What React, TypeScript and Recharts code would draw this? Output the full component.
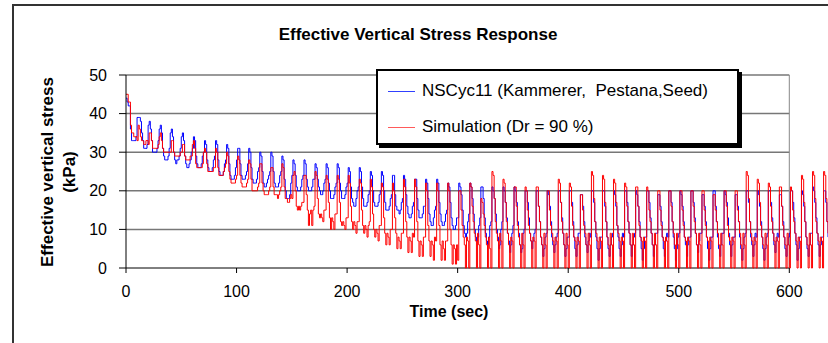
import React from "react";
import { Legend, Line, LineChart, ReferenceLine, XAxis, YAxis } from "recharts";

const FONT = "'Liberation Sans', Arial, sans-serif";

const xTicks = [0, 100, 200, 300, 400, 500, 600];
const yTicks = [0, 10, 20, 30, 40, 50];
const gridLevels = [10, 20, 30, 40, 50];

// one row per 10 s loading cycle, one reading per second (kPa)
const nscycCycles: number[][] = [
  [44, 43, 42, 42, 36, 33, 33, 33, 33, 34],
  [39, 39, 39, 38, 35, 33, 31, 31, 31, 32],
  [37, 38, 36, 33, 30, 30, 30, 30, 31, 33],
  [36, 37, 35, 31, 29, 28, 28, 28, 29, 31],
  [35, 36, 34, 30, 28, 27, 28, 28, 29, 31],
  [34, 35, 33, 29, 27, 26, 26, 27, 28, 30],
  [31, 34, 33, 29, 27, 26, 26, 26, 27, 29],
  [30, 33, 32, 28, 26, 25, 25, 25, 26, 28],
  [29, 33, 32, 28, 25, 24, 24, 24, 25, 27],
  [28, 32, 31, 27, 24, 23, 23, 23, 24, 26],
  [28, 31, 31, 27, 24, 23, 23, 23, 24, 25],
  [27, 31, 30, 26, 23, 22, 22, 22, 23, 25],
  [26, 30, 29, 25, 22, 21, 21, 22, 23, 24],
  [25, 30, 29, 25, 22, 21, 21, 21, 22, 24],
  [25, 29, 28, 23, 20, 18, 18, 18, 19, 22],
  [24, 28, 27, 24, 21, 20, 20, 20, 21, 23],
  [24, 28, 27, 23, 21, 20, 20, 20, 21, 23],
  [23, 27, 26, 23, 21, 20, 19, 19, 20, 22],
  [23, 27, 26, 22, 20, 18, 18, 18, 19, 21],
  [22, 27, 26, 22, 20, 18, 18, 18, 19, 21],
  [22, 26, 25, 21, 18, 17, 16, 16, 18, 20],
  [21, 26, 25, 21, 18, 16, 16, 16, 17, 19],
  [20, 25, 24, 20, 17, 16, 16, 16, 17, 19],
  [20, 25, 24, 20, 17, 15, 15, 15, 16, 18],
  [19, 24, 24, 19, 16, 15, 15, 14, 15, 17],
  [18, 24, 23, 19, 16, 14, 13, 13, 14, 16],
  [17, 23, 23, 18, 15, 13, 13, 13, 14, 16],
  [16, 23, 22, 18, 14, 12, 11, 11, 13, 15],
  [16, 23, 22, 17, 14, 12, 11, 11, 12, 14],
  [15, 22, 21, 17, 13, 11, 10, 10, 11, 13],
  [13, 22, 21, 19, 15, 11, 9, 8, 9, 12],
  [14, 22, 21, 18, 14, 10, 8, 7, 8, 11],
  [13, 21, 21, 18, 13, 9, 7, 6, 8, 11],
  [12, 21, 20, 18, 14, 10, 8, 5, 6, 10],
  [12, 21, 20, 17, 13, 9, 7, 4, 6, 9],
  [11, 21, 20, 17, 12, 9, 6, 4, 5, 9],
  [10, 20, 20, 17, 13, 9, 7, 5, 7, 9],
  [10, 20, 20, 16, 12, 8, 6, 3, 5, 8],
  [9, 20, 19, 16, 12, 8, 6, 4, 6, 8],
  [9, 20, 20, 17, 13, 9, 6, 3, 5, 8],
  [8, 20, 20, 17, 12, 8, 5, 3, 6, 9],
  [9, 19, 19, 16, 12, 8, 6, 4, 7, 9],
  [8, 20, 20, 17, 12, 8, 5, 2, 5, 8],
  [8, 20, 20, 16, 12, 8, 5, 3, 6, 8],
  [9, 20, 19, 16, 11, 8, 5, 3, 6, 9],
  [8, 20, 20, 17, 12, 9, 6, 3, 6, 8],
  [9, 20, 19, 16, 12, 8, 5, 2, 5, 8],
  [8, 20, 20, 17, 13, 9, 6, 3, 6, 9],
  [9, 19, 19, 16, 12, 8, 5, 3, 7, 9],
  [8, 20, 20, 17, 12, 8, 5, 2, 5, 8],
  [9, 20, 19, 16, 12, 8, 6, 3, 6, 8],
  [8, 20, 20, 17, 13, 9, 6, 4, 7, 9],
  [9, 19, 19, 16, 12, 8, 5, 2, 5, 8],
  [8, 20, 20, 16, 12, 8, 5, 3, 6, 9],
  [9, 20, 19, 17, 13, 9, 6, 3, 6, 8],
  [8, 19, 19, 16, 12, 8, 5, 2, 5, 8],
  [9, 20, 20, 17, 12, 8, 6, 3, 6, 9],
  [8, 20, 19, 16, 12, 8, 5, 2, 5, 8],
  [9, 20, 20, 17, 13, 9, 6, 4, 7, 9],
  [8, 19, 19, 16, 12, 8, 5, 3, 6, 8],
  [9, 20, 20, 17, 13, 9, 6, 2, 5, 8],
  [8, 20, 19, 16, 12, 8, 5, 3, 6, 9],
  [9, 21, 20, 17, 13, 9, 6, 3, 6, 8],
  [8, 20, 20, 17, 12, 8, 5, 2, 5, 8],
];

const simCycles: number[][] = [
  [45, 45, 43, 43, 37, 35, 35, 34, 34, 34],
  [33, 37, 36, 34, 33, 33, 32, 32, 33, 33],
  [32, 35, 35, 33, 31, 31, 31, 31, 31, 32],
  [34, 35, 33, 31, 30, 30, 30, 30, 30, 30],
  [30, 33, 33, 30, 29, 29, 29, 29, 29, 30],
  [30, 32, 32, 29, 28, 28, 28, 28, 29, 29],
  [32, 33, 31, 27, 26, 26, 26, 26, 26, 27],
  [30, 31, 30, 27, 25, 25, 25, 25, 25, 26],
  [26, 31, 30, 26, 24, 24, 24, 24, 25, 26],
  [27, 30, 29, 25, 23, 22, 22, 22, 22, 23],
  [24, 29, 28, 24, 22, 21, 21, 21, 21, 22],
  [23, 28, 27, 23, 20, 20, 20, 20, 20, 21],
  [22, 27, 27, 22, 20, 19, 19, 19, 19, 20],
  [21, 26, 26, 21, 19, 19, 19, 18, 19, 20],
  [21, 27, 26, 21, 18, 18, 17, 17, 18, 19],
  [18, 24, 25, 20, 16, 15, 16, 15, 16, 17],
  [17, 24, 24, 19, 15, 11, 14, 15, 11, 15],
  [16, 25, 24, 18, 14, 13, 14, 13, 12, 15],
  [15, 24, 23, 17, 13, 10, 13, 12, 10, 14],
  [14, 24, 23, 17, 12, 11, 12, 11, 10, 13],
  [13, 24, 22, 16, 12, 10, 12, 11, 9, 12],
  [12, 23, 22, 15, 11, 9, 11, 10, 8, 11],
  [12, 23, 21, 14, 10, 8, 10, 9, 7, 11],
  [11, 22, 21, 13, 9, 6, 9, 8, 6, 10],
  [10, 22, 20, 13, 9, 5, 8, 7, 5, 9],
  [9, 23, 21, 12, 8, 4, 8, 7, 4, 9],
  [8, 23, 21, 12, 7, 3, 7, 6, 3, 8],
  [8, 22, 20, 11, 7, 3, 7, 6, 2, 8],
  [7, 22, 20, 11, 6, 2, 7, 5, 2, 7],
  [7, 22, 20, 10, 6, 1, 6, 5, 1, 6],
  [2, 20, 20, 15, 11, 8, 6, 0, 8, 7],
  [0, 22, 21, 16, 12, 9, 7, 0, 9, 6],
  [0, 18, 17, 14, 11, 8, 6, 0, 8, 5],
  [0, 25, 24, 18, 12, 9, 7, 0, 9, 7],
  [0, 23, 22, 17, 12, 9, 6, 0, 8, 7],
  [0, 21, 21, 16, 11, 8, 6, 0, 9, 6],
  [0, 21, 20, 15, 11, 9, 7, 0, 8, 7],
  [0, 21, 21, 16, 12, 8, 6, 0, 9, 6],
  [0, 20, 20, 15, 11, 9, 7, 0, 8, 7],
  [0, 23, 22, 17, 12, 9, 6, 0, 9, 6],
  [0, 22, 21, 16, 11, 8, 7, 0, 8, 7],
  [0, 19, 19, 15, 11, 9, 6, 0, 9, 6],
  [0, 25, 24, 18, 12, 9, 7, 0, 8, 7],
  [0, 24, 23, 17, 12, 8, 6, 0, 9, 6],
  [0, 23, 22, 17, 11, 9, 7, 0, 8, 7],
  [0, 22, 21, 16, 12, 9, 6, 0, 9, 6],
  [0, 21, 21, 16, 11, 8, 7, 0, 8, 7],
  [0, 21, 20, 15, 12, 9, 6, 0, 9, 6],
  [0, 20, 20, 15, 11, 8, 7, 0, 8, 7],
  [0, 20, 20, 16, 12, 9, 6, 0, 9, 6],
  [0, 20, 20, 15, 11, 8, 7, 0, 8, 7],
  [0, 20, 20, 16, 12, 9, 6, 0, 9, 6],
  [0, 20, 20, 15, 11, 8, 7, 0, 8, 7],
  [0, 19, 19, 15, 12, 9, 6, 0, 9, 6],
  [0, 20, 20, 16, 11, 8, 7, 0, 8, 7],
  [0, 20, 20, 15, 12, 9, 6, 0, 9, 6],
  [0, 25, 24, 18, 12, 9, 7, 0, 8, 7],
  [0, 23, 22, 17, 11, 8, 6, 0, 9, 6],
  [0, 22, 21, 16, 12, 9, 7, 0, 8, 7],
  [0, 21, 21, 16, 11, 8, 6, 0, 9, 6],
  [0, 21, 20, 15, 12, 9, 7, 0, 8, 7],
  [0, 24, 23, 17, 12, 8, 6, 0, 9, 6],
  [0, 25, 24, 18, 12, 9, 7, 0, 8, 7],
  [0, 25, 24, 18, 12, 9, 7, 0, 8, 7],
];

const data = nscycCycles
  .flatMap((row, k) =>
    row.map((v, j) => ({ time: k * 10 + j, nscyc: v, sim: simCycles[k][j] }))
  )
  .filter((d) => d.time <= 635);

const legendItems = [
  { label: "NSCyc11 (Kammerer,  Pestana,Seed)", color: "#3040ff" },
  { label: "Simulation (Dr = 90 %)", color: "#ff5a5a" },
];

const renderLegend = () => (
  <div
    style={{
      width: 363,
      height: 76,
      boxSizing: "border-box",
      border: "2px solid #000",
      boxShadow: "3px 3px 0 #000",
      background: "#fff",
      position: "relative",
      fontFamily: FONT,
    }}
  >
    {legendItems.map((it, i) => (
      <div
        key={it.label}
        style={{
          position: "absolute",
          left: 10,
          top: 10 + i * 36,
          height: 20,
          display: "flex",
          alignItems: "center",
          whiteSpace: "pre",
        }}
      >
        <span style={{ width: 27, height: 0, borderTop: `1px solid ${it.color}`, marginRight: 7 }} />
        <span style={{ fontSize: 17, color: "#000" }}>{it.label}</span>
      </div>
    ))}
  </div>
);

const yTitle = () => (
  <g>
    <text x={53} y={172} transform="rotate(-90 53 172)" textAnchor="middle" fontFamily={FONT} fontSize={17} fontWeight="bold" fill="#000">
      Effective vertical stress
    </text>
    <text x={75} y={172} transform="rotate(-90 75 172)" textAnchor="middle" fontFamily={FONT} fontSize={17} fontWeight="bold" fill="#000">
      (kPa)
    </text>
  </g>
);

const xTitle = () => (
  <text x={449} y={317} textAnchor="middle" fontFamily={FONT} fontSize={16} fontWeight="bold" fill="#000">
    Time (sec)
  </text>
);

export default function App() {
  return (
    <div
      style={{
        position: "absolute",
        left: 0,
        top: 0,
        width: 828,
        height: 343,
        overflow: "hidden",
        background: "#fff",
        fontFamily: FONT,
      }}
    >
      <div style={{ position: "absolute", left: 12, top: 4, width: 900, height: 400, border: "2px solid #333" }} />
      <div
        style={{
          position: "absolute",
          left: 0,
          top: 25,
          width: 836,
          textAlign: "center",
          fontWeight: "bold",
          fontSize: 17,
          color: "#000",
        }}
      >
        Effective Vertical Stress Response
      </div>
      <LineChart
        width={828}
        height={343}
        data={data}
        margin={{ top: 75, right: 0, bottom: 0, left: 0 }}
        style={{ position: "absolute", left: 0, top: 0 }}
      >
        <XAxis
          dataKey="time"
          type="number"
          domain={[0, 635]}
          ticks={xTicks}
          axisLine={false}
          tickLine={{ stroke: "#000" }}
          tickSize={5}
          tickMargin={13}
          tick={{ fill: "#000", fontSize: 16, fontFamily: FONT }}
          height={75}
          label={{ content: xTitle }}
        />
        <YAxis
          type="number"
          domain={[0, 50]}
          ticks={yTicks}
          width={126}
          axisLine={{ stroke: "#000" }}
          tickLine={{ stroke: "#000" }}
          tickSize={7}
          tickMargin={12}
          tick={{ fill: "#000", fontSize: 16, fontFamily: FONT }}
          label={{ content: yTitle }}
        />
        {gridLevels.map((v) => (
          <ReferenceLine
            key={v}
            segment={[
              { x: 0, y: v },
              { x: 600, y: v },
            ]}
            stroke="#777"
            strokeWidth={1.5}
          />
        ))}
        <ReferenceLine
          segment={[
            { x: 0, y: 0 },
            { x: 600, y: 0 },
          ]}
          stroke="#000"
          strokeWidth={1}
        />
        <ReferenceLine x={600} stroke="#888" strokeWidth={1} />
        <Line
          type="stepAfter"
          dataKey="nscyc"
          stroke="#0000ff"
          strokeWidth={1}
          dot={false}
          isAnimationActive={false}
        />
        <Line
          type="stepAfter"
          dataKey="sim"
          stroke="#ff0000"
          strokeWidth={1}
          dot={false}
          isAnimationActive={false}
        />
        <Legend
          layout="horizontal"
          verticalAlign="middle"
          align="center"
          content={renderLegend}
          wrapperStyle={{ position: "absolute", left: 376, top: 69, width: 363, height: 76 }}
        />
      </LineChart>
    </div>
  );
}
